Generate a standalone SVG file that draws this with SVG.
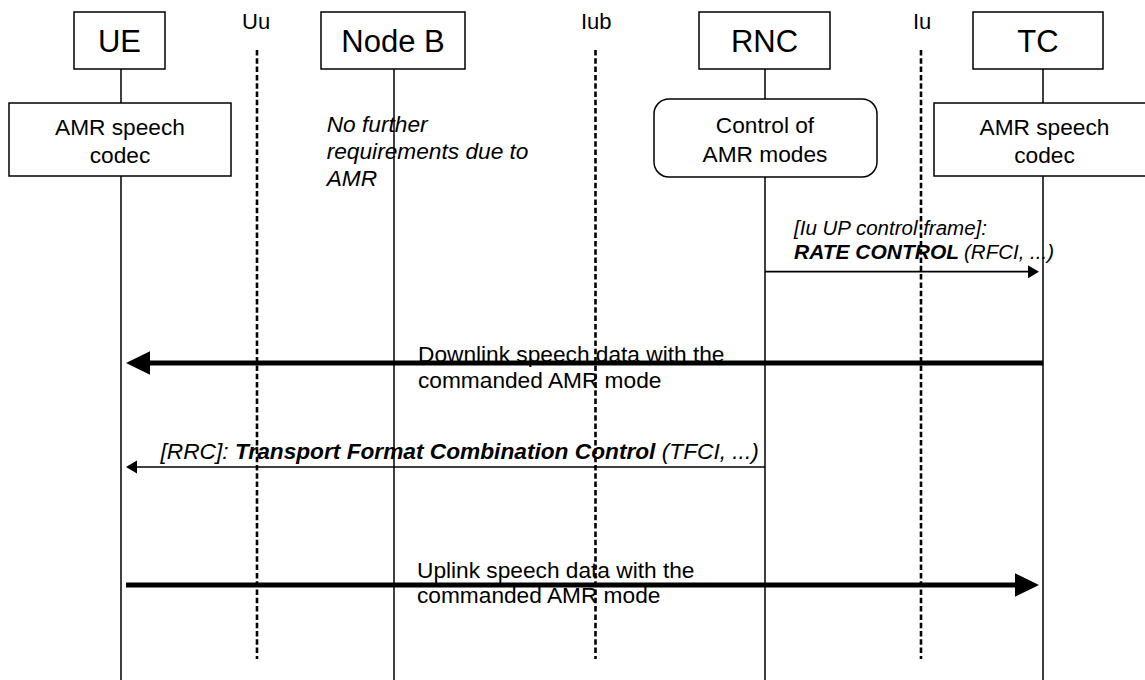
<svg xmlns="http://www.w3.org/2000/svg" width="1145" height="680" viewBox="0 0 1145 680">
<style>
  text { font-family: "Liberation Sans", Arial, Helvetica, sans-serif; fill: #000; }
  .hdr { font-size: 31px; text-anchor: middle; }
  .itf { font-size: 22px; }
  .body { font-size: 22.7px; }
  .mid { text-anchor: middle; }
  .it { font-style: italic; }
  .bi { font-style: italic; font-weight: bold; }
  .box { fill: #fff; stroke: #000; stroke-width: 1.5; }
  .life { stroke: #000; stroke-width: 1.5; fill: none; }
  .dash { stroke: #000; stroke-width: 2.6; stroke-dasharray: 5.5 2.8; fill: none; }
  .thin { stroke: #000; stroke-width: 1.7; fill: none; }
  .thick { stroke: #000; stroke-width: 5; fill: none; }
</style>
<defs>
  <marker id="bigHead" markerUnits="userSpaceOnUse" markerWidth="24" markerHeight="24" refX="0" refY="12" orient="auto" overflow="visible">
    <path d="M0,0.3 L24,12 L0,23.7 Z" fill="#000"/>
  </marker>
  <marker id="smallHead" markerUnits="userSpaceOnUse" markerWidth="11" markerHeight="13" refX="0" refY="6.5" orient="auto" overflow="visible">
    <path d="M0,0 L11,6.5 L0,13 Z" fill="#000"/>
  </marker>
</defs>
<rect width="1145" height="680" fill="#fff"/>

<g id="interfaces">
  <g id="if-uu">
    <text class="itf" x="242" y="29">Uu</text>
    <line class="dash" x1="257" y1="50" x2="257" y2="659"/>
  </g>
  <g id="if-iub">
    <text class="itf" x="581" y="29">Iub</text>
    <line class="dash" x1="595.5" y1="50" x2="595.5" y2="659"/>
  </g>
  <g id="if-iu">
    <text class="itf" x="913" y="29">Iu</text>
    <line class="dash" x1="921" y1="50" x2="921" y2="659"/>
  </g>
</g>

<g id="lifelines">
  <path class="life" d="M121,69 V103 M121,176 V680"/>
  <path class="life" d="M394,69 V680"/>
  <path class="life" d="M765,69 V99 M765,177 V680"/>
  <path class="life" d="M1043,69 V103 M1043,176 V680"/>
</g>

<g id="node-ue">
  <rect class="box" x="74" y="12" width="91" height="57"/>
  <text class="hdr" x="119.5" y="52.3">UE</text>
</g>
<g id="node-nodeb">
  <rect class="box" x="321" y="12" width="144" height="57"/>
  <text class="hdr" x="393" y="52.3">Node B</text>
</g>
<g id="node-rnc">
  <rect class="box" x="699" y="12" width="131" height="57"/>
  <text class="hdr" x="764.5" y="52.3">RNC</text>
</g>
<g id="node-tc">
  <rect class="box" x="973" y="12" width="130" height="57"/>
  <text class="hdr" x="1038" y="52.3">TC</text>
</g>

<g id="node-ue-codec">
  <rect class="box" x="9" y="103" width="222" height="73"/>
  <text class="body mid" x="120" y="135">AMR speech</text>
  <text class="body mid" x="120" y="162.7">codec</text>
</g>
<g id="node-nodeb-note">
  <text class="body it" x="326.7" y="131.5">No further</text>
  <text class="body it" x="326.7" y="158.5">requirements due to</text>
  <text class="body it" x="326.7" y="185.5">AMR</text>
</g>
<g id="node-rnc-control">
  <rect class="box" x="654" y="99" width="223" height="78" rx="15" ry="15"/>
  <text class="body mid" x="765" y="133.3">Control of</text>
  <text class="body mid" x="765" y="161.7">AMR modes</text>
</g>
<g id="node-tc-codec">
  <rect class="box" x="934" y="103" width="222" height="73"/>
  <text class="body mid" x="1044.5" y="135">AMR speech</text>
  <text class="body mid" x="1044.5" y="162.7">codec</text>
</g>

<g id="connectors">
  <g id="msg-rate-control">
    <line class="thin" x1="765" y1="271.7" x2="1028" y2="271.7" marker-end="url(#smallHead)"/>
    <text class="it" style="font-size:20.5px" x="794" y="235">[Iu UP control frame]:</text>
    <text class="bi" style="font-size:20.5px" x="794" y="259.3" textLength="165" lengthAdjust="spacingAndGlyphs">RATE CONTROL</text>
    <text class="it" style="font-size:20.5px" x="964" y="259.3">(RFCI, ...)</text>
  </g>
  <g id="msg-downlink">
    <line class="thick" x1="1043" y1="363" x2="150" y2="363" marker-end="url(#bigHead)"/>
    <text class="body" x="418" y="361.7">Downlink speech data with the</text>
    <text class="body" x="418" y="387.7">commanded AMR mode</text>
  </g>
  <g id="msg-tfcc">
    <line class="thin" x1="765" y1="467" x2="137" y2="467" marker-end="url(#smallHead)"/>
    <text class="body" x="160.5" y="459"><tspan class="it">[RRC]: </tspan><tspan class="bi">Transport Format Combination Control</tspan><tspan class="it"> (TFCI, ...)</tspan></text>
  </g>
  <g id="msg-uplink">
    <line class="thick" x1="126" y1="585" x2="1015" y2="585" marker-end="url(#bigHead)"/>
    <text class="body" x="417" y="577.5">Uplink speech data with the</text>
    <text class="body" x="417" y="603.3">commanded AMR mode</text>
  </g>
</g>
</svg>
